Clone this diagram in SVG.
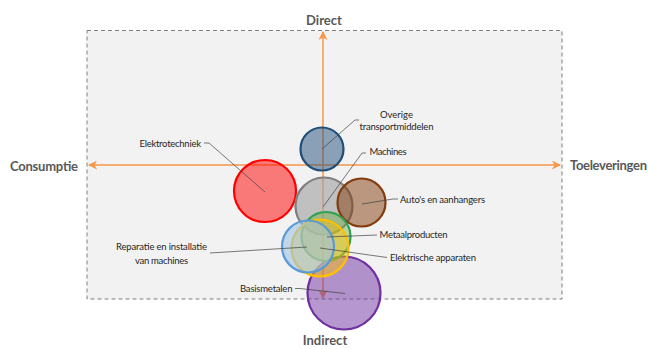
<svg xmlns="http://www.w3.org/2000/svg" width="649" height="349" viewBox="0 0 649 349">
<defs>
<style>
.axlbl{font-family:Lato,"Liberation Sans",sans-serif;font-weight:bold;font-size:13px;fill:#595959}
.lbl{font-family:Lato,"Liberation Sans",sans-serif;font-size:9.5px;fill:#262626}
.axis{stroke:#f79646;stroke-width:1.5;fill:none}
.lead{stroke:#404040;stroke-width:0.7;fill:none}
.c{stroke-width:2.2}
</style>
<marker id="ah" viewBox="0 0 10 10" refX="9" refY="5" markerWidth="6" markerHeight="6" orient="auto-start-reverse" markerUnits="strokeWidth">
<path d="M0,0 L10,5 L0,10 L3,5 z" fill="#f79646"/>
</marker>
</defs>
<rect width="649" height="349" fill="#ffffff"/>
<rect id="frame" x="87" y="30.5" width="475" height="268.5" fill="#f2f2f2" stroke="#7f7f7f" stroke-width="1" stroke-dasharray="4,3"/>
<g id="axes">
<line class="axis" x1="89" y1="165" x2="560" y2="165" marker-start="url(#ah)" marker-end="url(#ah)"/>
<line class="axis" x1="323" y1="298" x2="323" y2="32" marker-start="url(#ah)" marker-end="url(#ah)"/>
</g>
<text class="axlbl" x="324" y="25" text-anchor="middle">Direct</text>
<text class="axlbl" x="10" y="170.5" textLength="68">Consumptie</text>
<text class="axlbl" x="570" y="170" textLength="77">Toeleveringen</text>
<text class="axlbl" x="325" y="345" text-anchor="middle">Indirect</text>
<g id="basismetalen"><circle class="c" cx="344" cy="293" r="36.5" fill="#7030a0" fill-opacity="0.5" stroke="#7030a0"/></g>
<g id="elektrotechniek"><circle class="c" cx="265" cy="191" r="31" fill="#ff0000" fill-opacity="0.5" stroke="#ff0000"/></g>
<g id="overige"><circle class="c" cx="322" cy="149" r="21.5" fill="#1f4e79" fill-opacity="0.5" stroke="#1f4e79"/></g>
<g id="machines"><circle class="c" cx="324" cy="206" r="28.5" fill="#a5a5a5" fill-opacity="0.65" stroke="#7f7f7f"/></g>
<g id="autos"><circle class="c" cx="361.5" cy="202.5" r="24" fill="#843c0c" fill-opacity="0.5" stroke="#843c0c"/></g>
<g id="metaalproducten"><circle class="c" cx="326" cy="236.5" r="24.5" fill="#70ad47" fill-opacity="0.45" stroke="#2ea24f"/></g>
<g id="elektrische"><circle class="c" cx="320" cy="248" r="28.5" fill="#ffc000" fill-opacity="0.45" stroke="#ffc000"/></g>
<g id="reparatie"><circle class="c" cx="308" cy="246.5" r="26" fill="#9dc3e6" fill-opacity="0.6" stroke="#5b9bd5"/></g>
<g id="connectors">
<polyline class="lead" points="322,149 355,120 359,120"/>
<polyline class="lead" points="323,207 362,153 366,153"/>
<polyline class="lead" points="204,143 209,143 265,192"/>
<polyline class="lead" points="362,204 393,199 398,199"/>
<polyline class="lead" points="327,237 377,235"/>
<polyline class="lead" points="320,248 387,257.5"/>
<polyline class="lead" points="210,253 307,247"/>
<polyline class="lead" points="295,288.5 300,288.5 345,293.5"/>
</g>
<g id="labels">
<text class="lbl" x="396.5" y="117.5" text-anchor="middle">Overige</text>
<text class="lbl" x="359.5" y="130" textLength="74">transportmiddelen</text>
<text class="lbl" x="369.5" y="155" textLength="37">Machines</text>
<text class="lbl" x="139.5" y="146.5" textLength="61.5">Elektrotechniek</text>
<text class="lbl" x="400" y="202.5" textLength="85">Auto's en aanhangers</text>
<text class="lbl" x="379.5" y="237.5" textLength="68">Metaalproducten</text>
<text class="lbl" x="390" y="261" textLength="86">Elektrische apparaten</text>
<text class="lbl" x="116" y="250" textLength="91">Reparatie en installatie</text>
<text class="lbl" x="135" y="263.5" textLength="53">van machines</text>
<text class="lbl" x="240" y="291.5" textLength="52.5">Basismetalen</text>
</g>
</svg>
